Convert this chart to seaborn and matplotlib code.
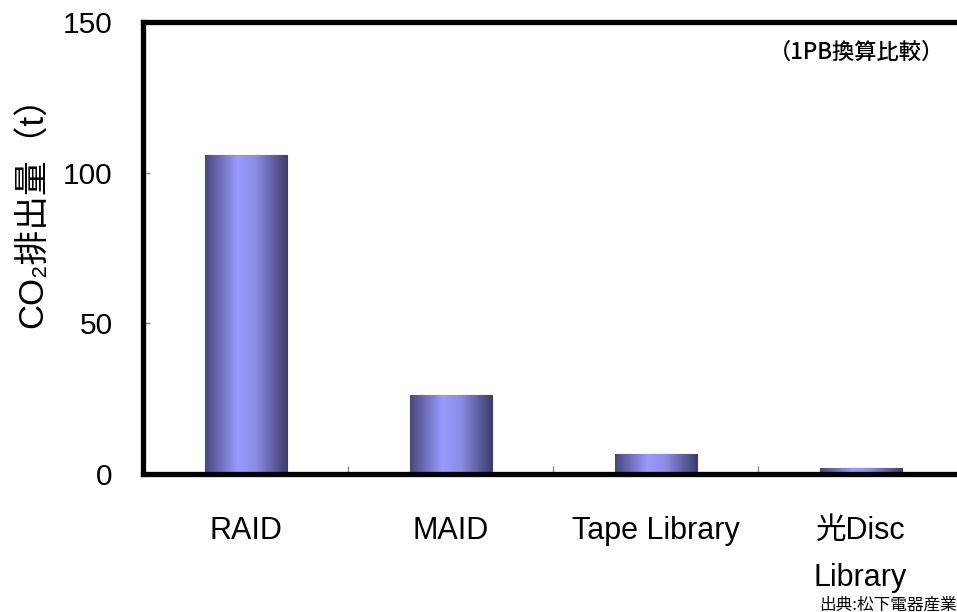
import numpy as np
import pandas as pd
import matplotlib
matplotlib.use("Agg")
import matplotlib.pyplot as plt
from matplotlib.colors import LinearSegmentedColormap
from matplotlib.ticker import FixedLocator
import seaborn as sns

categories = ["RAID", "MAID", "Tape Library", "光Disc\nLibrary"]
co2_values = [105.7, 26.3, 6.7, 2.0]
y_ticks = [0, 50, 100, 150]

sns.set_theme(style="white")
plt.rcParams['font.family'] = ['Liberation Sans', 'Noto Sans CJK JP', 'DejaVu Sans']
plt.rcParams['text.color'] = 'black'
plt.rcParams['xtick.labelcolor'] = 'black'
plt.rcParams['ytick.labelcolor'] = 'black'

df = pd.DataFrame({"category": categories, "co2": co2_values})

fig = plt.figure(figsize=(9.57, 6.12), dpi=100)
W, H = 957, 612
ax = fig.add_axes([143 / W, (H - 474) / H, 820 / W, (474 - 22) / H])

sns.barplot(data=df, x="category", y="co2", ax=ax, width=0.4,
            color="#9999ff", edgecolor="#3c3c6a", linewidth=0.8, zorder=2)

ax.set_xlim(-0.5, 3.5)
ax.set_ylim(0, 150)

# horizontal gradient fill on each bar
cmap = LinearSegmentedColormap.from_list(
    "bar", [(0.0, "#48487e"), (0.4, "#9a9aff"), (0.62, "#8c8ce6"), (1.0, "#3e3e6c")])
grad = np.linspace(0, 1, 256).reshape(1, -1)
for p in list(ax.patches):
    x0, y0 = p.get_x(), p.get_y()
    w, h = p.get_width(), p.get_height()
    im = ax.imshow(grad, extent=[x0, x0 + w, y0, y0 + h], aspect="auto",
                   cmap=cmap, zorder=2.5, interpolation="bilinear")
    im.set_clip_path(p)
ax.set_xlim(-0.5, 3.5)
ax.set_ylim(0, 150)
ax.set_aspect("auto")

# spines
for s in ["left", "top", "bottom"]:
    ax.spines[s].set_visible(True)
    ax.spines[s].set_color("black")
    ax.spines[s].set_linewidth(3.8)
ax.spines["right"].set_visible(False)

ax.set_yticks(y_ticks)
ax.set_yticklabels([str(v) for v in y_ticks])
ax.tick_params(axis="y", direction="in", length=5, width=1, color="#888888",
               labelsize=21.5, pad=22, left=True, labelcolor="black")
ax.tick_params(axis="x", which="major", length=0, labelsize=22, pad=30,
               labelcolor="black")
ax.xaxis.set_minor_locator(FixedLocator([0.5, 1.5, 2.5]))
ax.tick_params(axis="x", which="minor", direction="in", length=6, width=1,
               color="#888888", bottom=True)
for lab in ax.get_xticklabels():
    lab.set_linespacing(1.75)
    lab.set_multialignment("center")

ax.set_xlabel("")
ax.set_ylabel("")
fig.text(33 / W, 1 - 204 / H, "CO₂排出量（t）", rotation=90, fontsize=25,
         ha="center", va="center", color="black")

fig.text(944 / W, 1 - 52 / H, "（1PB換算比較）", fontsize=16, ha="right", va="center",
         family=['Noto Sans CJK JP', 'DejaVu Sans'], fontweight="medium", color="black")
fig.text(957 / W, 1 - 605 / H, "出典:松下電器産業", fontsize=12, ha="right", va="center",
         family=['Noto Sans CJK JP', 'DejaVu Sans'], color="black")

fig.savefig("out.png", dpi=100)
